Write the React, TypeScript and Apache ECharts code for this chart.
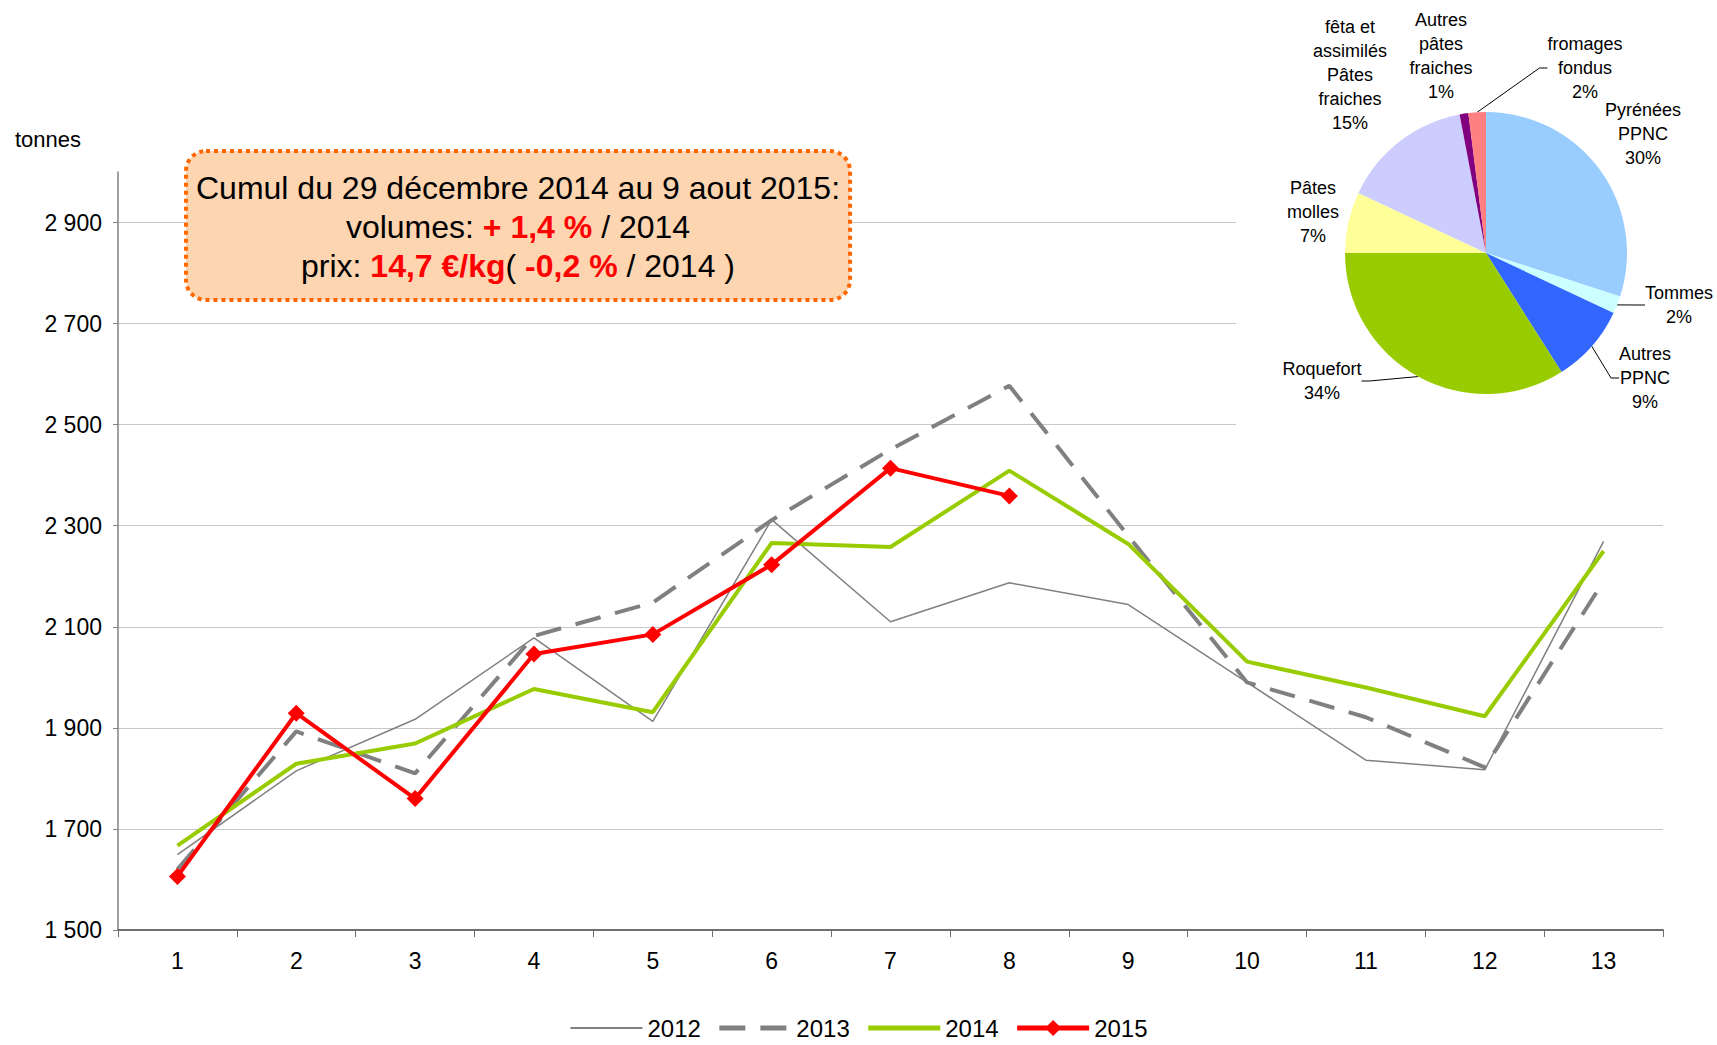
import React, { useEffect, useRef } from 'react';
import * as echarts from 'echarts';

const FONT = "'Liberation Sans', Arial, Helvetica, sans-serif";

const weeks = ['1', '2', '3', '4', '5', '6', '7', '8', '9', '10', '11', '12', '13'];
const v2012 = [1649, 1815, 1917, 2078, 1913, 2312, 2110, 2187, 2144, 1990, 1836, 1817, 2269];
const v2013 = [1620, 1893, 1810, 2082, 2148, 2311, 2451, 2577, 2280, 1990, 1921, 1822, 2190];
const v2014 = [1667, 1829, 1869, 1977, 1931, 2266, 2258, 2409, 2264, 2031, 1980, 1923, 2250];
const v2015 = [1606, 1929, 1760, 2046, 2085, 2223, 2414, 2359];

const yMin = 1500;
const yMax = 3000;
const yStep = 200;

const pieNames = [
  'Pyrénées\nPPNC',
  'Tommes',
  'Autres\nPPNC',
  'Roquefort',
  'Pâtes\nmolles',
  'fêta et\nassimilés\nPâtes\nfraiches',
  'Autres\npâtes\nfraiches',
  'fromages\nfondus',
];
const pieValues = [30, 2, 9, 34, 7, 15, 1, 2];
const pieColors = ['#99CCFF', '#CCFFFF', '#3366FF', '#99CC00', '#FFFF99', '#CCCCFF', '#800080', '#FF8080'];
const pieLabelPos = [
  [1643, 134],
  [1679, 305],
  [1645, 378],
  [1322, 381],
  [1313, 212],
  [1350, 75],
  [1441, 56],
  [1585, 68],
];
const pieLeader = [false, true, true, true, false, false, false, true];

const DASH_2013 = [26, 15];

function fmtThousands(v: number): string {
  if (v >= yMax) return '';
  const th = Math.floor(v / 1000);
  const rest = String(v % 1000).padStart(3, '0');
  return th > 0 ? th + ' ' + rest : String(v);
}

export default function App() {
  const ref = useRef<HTMLDivElement>(null);

  useEffect(() => {
    if (!ref.current) return;
    const chart = echarts.init(ref.current, null, { renderer: 'svg' });

    const option: any = {
      animation: false,
      backgroundColor: '#ffffff',
      textStyle: { fontFamily: FONT },
      grid: { left: 118, right: 54, top: 172, bottom: 115 },
      legend: {
        data: [
          { name: '2012', itemStyle: { opacity: 0 }, lineStyle: { width: 2, color: '#808080' } },
          { name: '2013', itemStyle: { opacity: 0 }, lineStyle: { width: 5, color: '#808080', type: DASH_2013 } },
          { name: '2014', itemStyle: { opacity: 0 }, lineStyle: { width: 5, color: '#99CC00' } },
          { name: '2015', lineStyle: { width: 5, color: '#FF0000' } },
        ],
        left: 'center',
        top: 1011,
        itemWidth: 72,
        itemHeight: 20,
        itemGap: 16,
        textStyle: { fontFamily: FONT, fontSize: 24, color: '#000' },
      },
      xAxis: {
        type: 'category',
        data: weeks,
        boundaryGap: true,
        axisLine: { show: true, lineStyle: { color: '#6e6e6e', width: 2 } },
        axisTick: { show: true, length: 7, lineStyle: { color: '#6e6e6e', width: 1 } },
        axisLabel: { fontFamily: FONT, fontSize: 23, color: '#000', margin: 19 },
        splitLine: { show: false },
      },
      yAxis: {
        type: 'value',
        min: yMin,
        max: yMax,
        interval: yStep,
        axisLine: { show: true, lineStyle: { color: '#808080', width: 1.5 } },
        axisTick: { show: true, length: 5, lineStyle: { color: '#808080' } },
        axisLabel: {
          fontFamily: FONT,
          fontSize: 23,
          color: '#000',
          margin: 16,
          showMaxLabel: false,
          formatter: (v: number) => fmtThousands(v),
        },
        splitLine: { show: true, showMaxLine: false, lineStyle: { color: '#c8c8c8', width: 1 } },
      },
      graphic: [
        {
          type: 'rect',
          z: 1,
          shape: { x: 1236, y: 0, width: 481, height: 455 },
          style: { fill: '#ffffff' },
          silent: true,
        },
        {
          type: 'text',
          z: 3,
          x: 15,
          y: 139,
          style: {
            text: 'tonnes',
            fill: '#000',
            fontFamily: FONT,
            fontSize: 22,
            verticalAlign: 'middle',
            align: 'left',
          },
        },
        {
          type: 'rect',
          z: 20,
          shape: { x: 186, y: 151, width: 664, height: 149, r: 20 },
          style: {
            fill: '#FDD5B0',
            stroke: '#FF6600',
            lineWidth: 4,
            lineDash: [4, 4],
          },
        },
        {
          type: 'text',
          z: 21,
          x: 518,
          y: 227,
          style: {
            text:
              'Cumul du 29 décembre 2014 au 9 aout 2015:\n' +
              'volumes: {r|+ 1,4 %} / 2014\n' +
              'prix: {r|14,7 €/kg}( {r|-0,2 %} / 2014 )',
            fill: '#000',
            fontFamily: FONT,
            fontSize: 32,
            lineHeight: 39,
            align: 'center',
            verticalAlign: 'middle',
            rich: {
              r: {
                fill: '#FF0000',
                fontWeight: 'bold',
                fontFamily: FONT,
                fontSize: 32,
                lineHeight: 39,
              },
            },
          },
        },
      ],
      series: [
        {
          name: '2012',
          type: 'line',
          data: v2012,
          symbol: 'none',
          z: 3,
          lineStyle: { color: '#808080', width: 1.5 },
          itemStyle: { color: '#808080' },
        },
        {
          name: '2013',
          type: 'line',
          data: v2013,
          symbol: 'none',
          z: 4,
          lineStyle: { color: '#808080', width: 4, type: DASH_2013 },
          itemStyle: { color: '#808080' },
        },
        {
          name: '2014',
          type: 'line',
          data: v2014,
          symbol: 'none',
          z: 5,
          lineStyle: { color: '#99CC00', width: 4 },
          itemStyle: { color: '#99CC00' },
        },
        {
          name: '2015',
          type: 'line',
          data: v2015,
          symbol: 'diamond',
          symbolSize: 17,
          showSymbol: true,
          z: 6,
          lineStyle: { color: '#FF0000', width: 4 },
          itemStyle: { color: '#FF0000' },
        },
        {
          name: 'parts',
          type: 'pie',
          z: 8,
          center: [1486, 253],
          radius: 141,
          startAngle: 90,
          clockwise: true,
          avoidLabelOverlap: false,
          itemStyle: { borderWidth: 0 },
          label: {
            show: true,
            position: 'outside',
            fontFamily: FONT,
            fontSize: 18,
            lineHeight: 24,
            color: '#000',
            align: 'center',
            formatter: (p: any) => p.name + '\n' + Math.round(p.percent) + '%',
          },
          labelLine: { show: true, length: 8, length2: 8, lineStyle: { color: '#000', width: 1 } },
          labelLayout: (params: any) => {
            const pos = pieLabelPos[params.dataIndex];
            return { x: pos[0], y: pos[1], align: 'center', verticalAlign: 'middle' };
          },
          emphasis: { disabled: true },
          data: pieNames.map((n, i) => ({
            name: n,
            value: pieValues[i],
            itemStyle: { color: pieColors[i] },
            labelLine: { show: pieLeader[i] },
          })),
        },
      ],
    };

    chart.setOption(option);
    return () => chart.dispose();
  }, []);

  return (
    <div
      ref={ref}
      style={{ position: 'fixed', left: 0, top: 0, width: 1717, height: 1045, background: '#fff' }}
    />
  );
}
